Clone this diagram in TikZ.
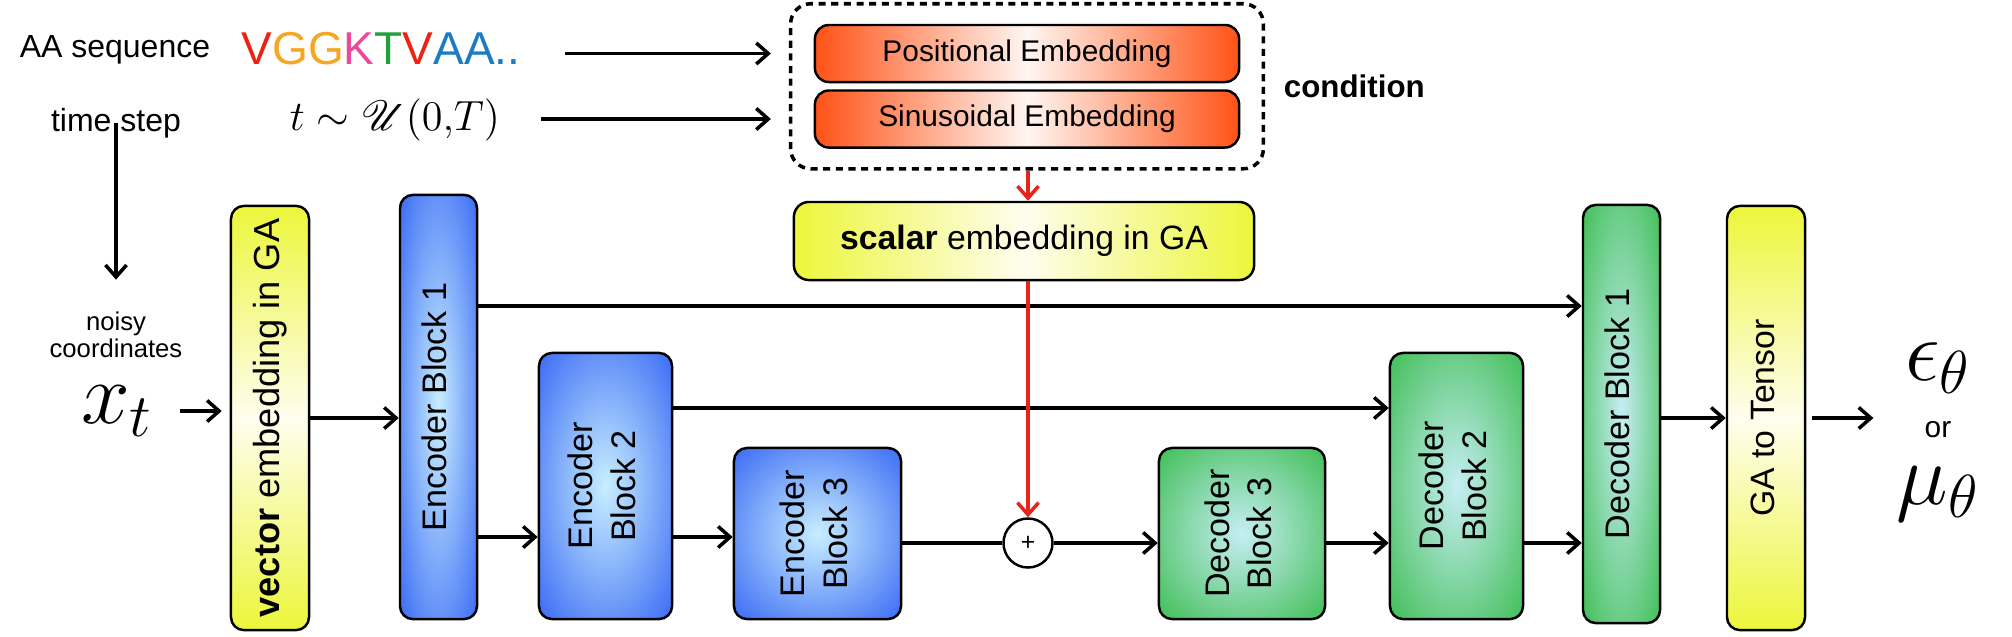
\documentclass[tikz,border=0pt]{standalone}
\usepackage{fontspec}
\setmainfont{Liberation Sans}
\usepackage{mathrsfs}
\usepackage{graphicx}
\usepackage{color}
\definecolor{encblue}{RGB}{40,90,243}
\definecolor{enclight}{RGB}{200,238,255}
\definecolor{decgreen}{RGB}{48,184,66}
\definecolor{declight}{RGB}{198,238,244}
\definecolor{gayellow}{RGB}{236,246,58}
\definecolor{galight}{RGB}{255,253,238}
\definecolor{condred}{RGB}{255,82,22}
\definecolor{condlight}{RGB}{255,246,242}
\definecolor{arrowred}{RGB}{232,35,26}
\definecolor{aared}{RGB}{236,34,20}
\definecolor{aaorange}{RGB}{245,166,35}
\definecolor{aapink}{RGB}{236,72,153}
\definecolor{aagreen}{RGB}{34,160,60}
\definecolor{aablue}{RGB}{27,124,196}
\usepackage{tikz}
\usetikzlibrary{positioning,fit,calc,arrows.meta}
\pgfdeclareradialshading{encglow}{\pgfpoint{0bp}{0bp}}{color(0bp)=(enclight); color(40bp)=(encblue); color(80bp)=(encblue)}
\pgfdeclareradialshading{decglow}{\pgfpoint{0bp}{0bp}}{color(0bp)=(declight); color(40bp)=(decgreen); color(80bp)=(decgreen)}
\tikzstyle{inlabel}=[inner sep=0pt,font=\fontsize{9.1}{11}\selectfont]
\tikzstyle{seqtext}=[inner sep=0pt,font=\fontsize{13.1}{15}\selectfont]
\tikzstyle{mathtext}=[inner sep=0pt,font=\fontsize{13}{15}\selectfont]
\tikzstyle{bigmath}=[inner sep=0pt,font=\fontsize{23}{27}\selectfont]
\tikzstyle{smalltext}=[inner sep=0pt,align=center,font=\fontsize{7.3}{7.5}\selectfont]
\tikzstyle{embbox}=[draw,rounded corners=0.14cm,line width=0.7pt,minimum width=4.24cm,minimum height=0.57cm,inner sep=0pt,left color=condred,right color=condred,middle color=condlight,font=\fontsize{8.5}{10}\selectfont]
\tikzstyle{condbox}=[draw,dash pattern=on 2pt off 1.6pt,rounded corners=0.2cm,line width=1pt,inner xsep=0.23cm,inner ysep=0.2cm]
\tikzstyle{scalarbox}=[draw,rounded corners=0.15cm,line width=0.7pt,minimum width=4.6cm,minimum height=0.78cm,inner sep=0pt,left color=gayellow,right color=gayellow,middle color=galight,font=\fontsize{9.6}{11}\selectfont]
\tikzstyle{encblock}=[draw,rounded corners=0.13cm,line width=0.7pt,inner sep=0pt,shade,shading=encglow,font=\fontsize{9.7}{12}\selectfont]
\tikzstyle{decblock}=[draw,rounded corners=0.13cm,line width=0.7pt,inner sep=0pt,shade,shading=decglow,font=\fontsize{9.7}{12}\selectfont]
\tikzstyle{gablock}=[draw,rounded corners=0.13cm,line width=0.7pt,inner sep=0pt,top color=gayellow,bottom color=gayellow,middle color=galight,minimum width=0.78cm,minimum height=4.24cm,font=\fontsize{9.6}{12}\selectfont]
\tikzstyle{sumnode}=[draw,circle,line width=0.7pt,minimum size=0.49cm,inner sep=0pt,fill=white,font=\fontsize{7}{8}\selectfont]
\tikzstyle{redarr}=[->,draw=arrowred,line width=1pt]
\newcommand{\blocktext}[1]{\rotatebox{90}{\begin{tabular}{@{}c@{}}#1\end{tabular}}}

\begin{document}
\begin{tikzpicture}[x=0.01cm,y=-0.01cm,line width=1pt,>={Straight Barb[length=3.4pt,width=6pt]}]
\useasboundingbox (0,0) rectangle (2012,636);
% inputs
\node[inlabel] (aaseq) at (115,50) {AA sequence};
\node[seqtext] (seq) at (381,49) {{\color{aared}V}{\color{aaorange}GG}{\color{aapink}K}{\color{aagreen}T}{\color{aared}V}{\color{aablue}AA..}};
\node[inlabel] (timestep) at (116,123) {time step};
\node[mathtext] (tdist) at (395,120) {$t\sim\mathscr{U}(0{,}T)$};
\node[smalltext] (noisy) at (116,335) {noisy\\coordinates};
\node[bigmath] (xt) at (117,411) {$x_t$};
% condition
\node[embbox] (pos) at (1027,53.5) {Positional Embedding};
\node[embbox,below=0.06cm of pos] (sin) {Sinusoidal Embedding};
\node[condbox,fit=(pos)(sin)] (cond) {};
\node[inner sep=0pt,right=0.17cm of cond,font=\bfseries\fontsize{8.9}{10}\selectfont] (condtxt) {condition};
\node[scalarbox] (scalar) at (1024,241) {\textbf{scalar} embedding in GA};
% blocks
\node[gablock,font=\fontsize{10.3}{13}\selectfont] (vec) at (270,418) {\blocktext{\textbf{vector} embedding in GA}};
\node[encblock,minimum width=0.77cm,minimum height=4.24cm] (enc1) at (438.5,407) {\blocktext{Encoder Block 1}};
\node[encblock,minimum width=1.33cm,minimum height=2.66cm] (enc2) at (605.5,486) {\blocktext{Encoder\\Block 2}};
\node[encblock,minimum width=1.67cm,minimum height=1.71cm] (enc3) at (817.5,533.5) {\blocktext{Encoder\\Block 3}};
\node[sumnode] (plus) at (1028,543) {+};
\node[decblock,minimum width=1.66cm,minimum height=1.71cm] (dec3) at (1242,533.5) {\blocktext{Decoder\\Block 3}};
\node[decblock,minimum width=1.33cm,minimum height=2.66cm] (dec2) at (1456.5,486) {\blocktext{Decoder\\Block 2}};
\node[decblock,minimum width=0.77cm,minimum height=4.18cm] (dec1) at (1621.5,414) {\blocktext{Decoder Block 1}};
\node[gablock] (ga) at (1766,418) {\blocktext{GA to Tensor}};
% outputs
\node[bigmath] (eps) at (1938,368) {$\epsilon_\theta$};
\node[inner sep=0pt,font=\fontsize{8.5}{10}\selectfont] (orword) at (1938,430) {or};
\node[bigmath] (mu) at (1938,494) {$\mu_\theta$};
\coordinate (skipA) at (0,306);
\coordinate (skipB) at (0,408);
\coordinate (lowrow) at (0,537);
% connectors
\draw[->,shorten <=0.43cm,shorten >=0.18cm] (seq.east |- pos) -- (cond.west |- pos);
\draw[->,shorten <=0.39cm,shorten >=0.18cm] (tdist.east |- sin) -- (cond.west |- sin);
\draw[->,shorten >=0.31cm] (timestep.center) -- (noisy.north);
\draw[->,shorten <=0.25cm,shorten >=0.08cm] (xt.east) -- (xt.east -| vec.west);
\draw[->] (vec.east) -- (vec.east -| enc1.west);
\draw[->] (enc1.east |- skipA) -- (dec1.west |- skipA);
\draw[->] (enc2.east |- skipB) -- (dec2.west |- skipB);
\draw[->] (enc1.east |- lowrow) -- (enc2.west |- lowrow);
\draw[->] (enc2.east |- lowrow) -- (enc3.west |- lowrow);
\draw (enc3.east |- plus) -- (plus.west);
\draw[->] (plus.east) -- (plus.east -| dec3.west);
\draw[->] (dec3.east |- plus) -- (dec2.west |- plus);
\draw[->] (dec2.east |- plus) -- (dec1.west |- plus);
\draw[->] (ga.west -| dec1.east) -- (ga.west);
\draw[->,shorten <=0.06cm,shorten >=0.3cm] (ga.east) -- (ga.east -| eps.west);
\draw[redarr] (cond.south -| plus) -- (scalar.north -| plus);
\draw[redarr] (scalar.south -| plus) -- (plus.north);
\end{tikzpicture}
\end{document}
